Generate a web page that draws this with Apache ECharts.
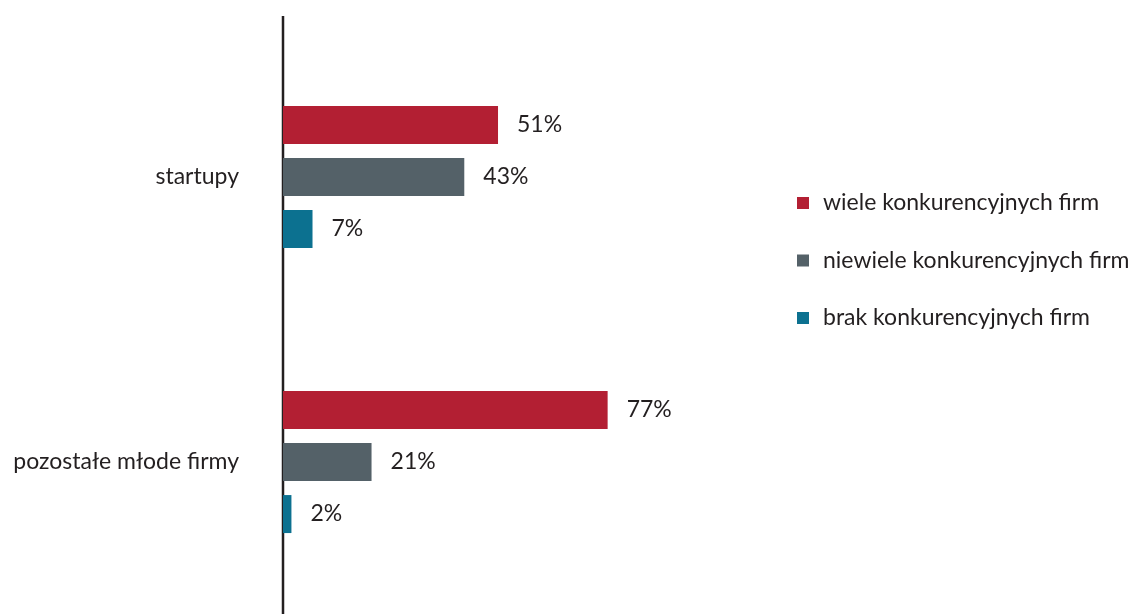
<!DOCTYPE html>
<html><head><meta charset="utf-8">
<script src="https://cdn.jsdelivr.net/npm/echarts@6/dist/echarts.min.js"></script>
<style>html,body{margin:0;padding:0;background:#fff}#c{width:1138px;height:614px}</style>
</head><body><div id="c"></div>
<script>
const categories = ['startupy', 'pozostałe młode firmy'];
const seriesNames = ['wiele konkurencyjnych firm', 'niewiele konkurencyjnych firm', 'brak konkurencyjnych firm'];
const wiele = [51, 77];
const niewiele = [43, 21];
const brak = [7, 2];
const colors = ['#B31F33', '#546168', '#0C7190'];
const FONT = 'Lato, "Open Sans", sans-serif';
const FS = 23;

const chart = echarts.init(document.getElementById('c'), null, {renderer: 'canvas'});
const gridLeft = 283, gridTop = 34.5, gridHeight = 570, gridWidth = 421.6;
const mk = (name, data, i) => ({
  name, type: 'bar', data, barWidth: 38, barGap: '37%',
  itemStyle: {color: colors[i]},
  label: {show: true, position: 'right', distance: 19, formatter: '{c}%',
    fontFamily: FONT, fontSize: FS, color: '#231f20', padding: [6,0,0,0]}
});
chart.setOption({
  animation: false,
  textStyle: {fontFamily: FONT},
  grid: {left: gridLeft, top: gridTop, width: gridWidth, height: gridHeight, containLabel: false},
  xAxis: {type: 'value', min: 0, max: 100, show: false},
  yAxis: {type: 'category', data: categories, inverse: true,
    axisLine: {show: false}, axisTick: {show: false},
    axisLabel: {fontFamily: FONT, fontSize: FS, color: '#231f20', margin: 44}},
  legend: {orient: 'vertical', left: 797, top: 191, padding: 0, itemWidth: 12, itemHeight: 12, itemGap: 33.5,
    icon: 'rect', data: seriesNames,
    textStyle: {fontFamily: FONT, fontSize: FS, lineHeight: 24, color: '#231f20', padding: [0,0,0,9]}},
  graphic: [{type: 'line', shape: {x1: gridLeft, y1: 16, x2: gridLeft, y2: 614},
    style: {stroke: '#231f20', lineWidth: 2.5}}],
  series: [mk(seriesNames[0], wiele, 0), mk(seriesNames[1], niewiele, 1), mk(seriesNames[2], brak, 2)]
});
</script></body></html>
